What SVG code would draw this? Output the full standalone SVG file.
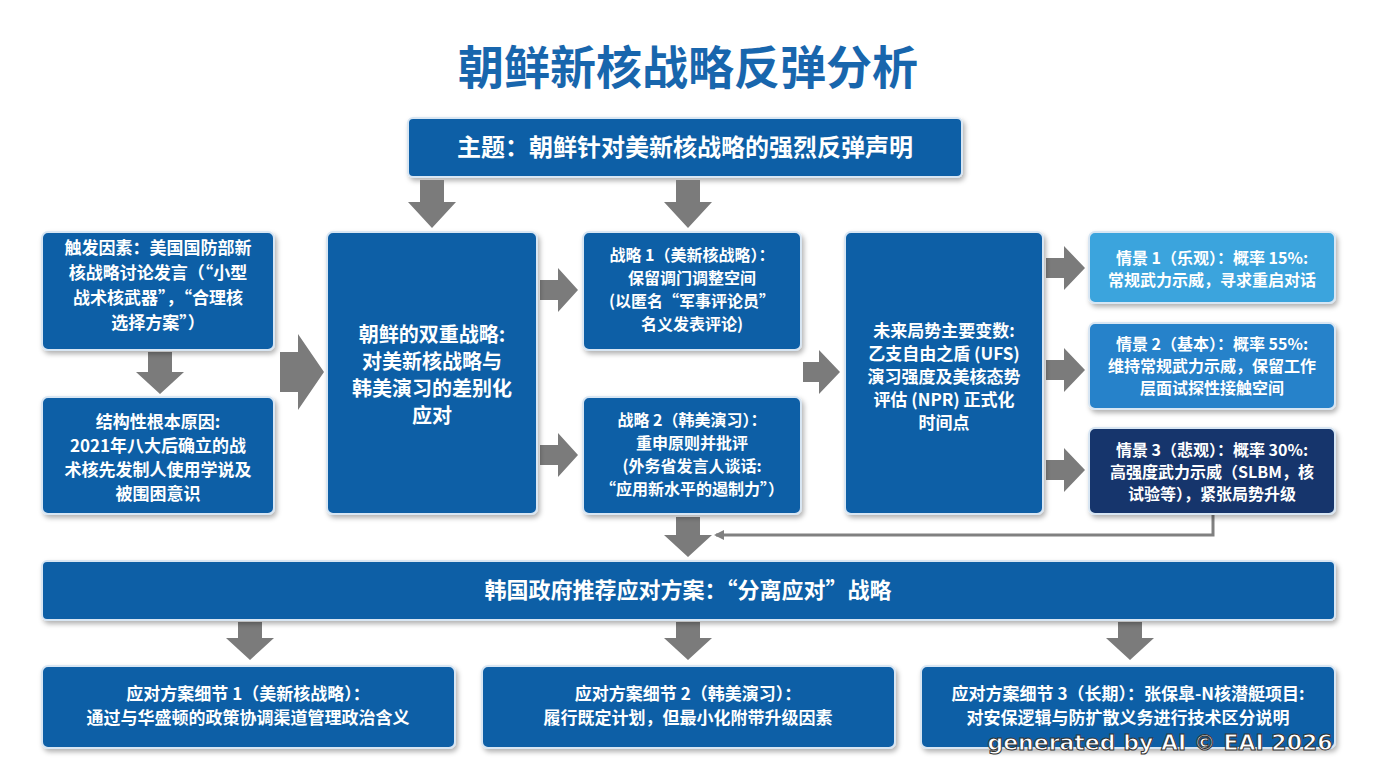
<svg xmlns="http://www.w3.org/2000/svg" width="1376" height="768" viewBox="0 0 1376 768">
<defs>
<filter id="sh" x="-10%" y="-10%" width="130%" height="140%"><feDropShadow dx="2" dy="3" stdDeviation="2.5" flood-color="#000" flood-opacity="0.3"/></filter>
<marker id="ah" markerWidth="10" markerHeight="10" refX="8" refY="5" orient="auto" markerUnits="userSpaceOnUse"><path d="M0,0 L10,5 L0,10 Z" fill="#808080"/></marker>
</defs>
<style>
.b{fill:#0f5ea6;stroke:#d8e6f3;stroke-width:2;filter:url(#sh)}
.t{font-family:"Noto Sans CJK SC","Liberation Sans",sans-serif;font-weight:bold;fill:#fff;text-anchor:middle;font-size:17px}
.a{fill:#7b7b7b}
</style>
<rect width="1376" height="768" fill="#fff"/>
<text x="688" y="84" style="font-family:'Noto Sans CJK SC',sans-serif;font-weight:bold;font-size:46px;fill:#1866ad;text-anchor:middle">朝鲜新核战略反弹分析</text>
<g id="topic"><rect class="b" x="408" y="118" width="554" height="59" rx="5"/><text class="t" x="685" y="156" style="font-size:24px">主题：朝鲜针对美新核战略的强烈反弹声明</text></g>
<g id="connectors">
<path class="a" d="M420,180h24v22h12l-24,26l-24,-26h12z"/>
<path class="a" d="M676,180h24v22h12l-24,26l-24,-26h12z"/>
<path class="a" d="M148,352h24v20h12l-24,22l-24,-22h12z"/>
<path class="a" d="M280,352h18v-18l26,38l-26,38v-18h-18z"/>
<path class="a" d="M540,280h18v-12l20,22l-20,22v-12h-18z"/>
<path class="a" d="M540,445h18v-12l20,22l-20,22v-12h-18z"/>
<path class="a" d="M803,362h16v-12l21,22l-21,22v-12h-16z"/>
<path class="a" d="M1046,258h18v-12l21,22l-21,22v-12h-18z"/>
<path class="a" d="M1046,360h18v-12l21,22l-21,22v-12h-18z"/>
<path class="a" d="M1046,460h18v-12l21,22l-21,22v-12h-18z"/>
<path class="a" d="M676,517h24v18h12l-24,22l-24,-22h12z"/>
<path d="M1213,514V535H716" fill="none" stroke="#808080" stroke-width="3" marker-end="url(#ah)"/>
<path class="a" d="M238,622h24v16h12l-24,22l-24,-22h12z"/>
<path class="a" d="M676,622h24v16h12l-24,22l-24,-22h12z"/>
<path class="a" d="M1118,622h24v16h12l-24,22l-24,-22h12z"/>
</g>
<g id="trigger"><rect class="b" x="42" y="232" width="232" height="118" rx="6"/><text class="t"><tspan x="158" y="254">触发因素：美国国防部新</tspan><tspan x="158" y="279">核战略讨论发言（“小型</tspan><tspan x="158" y="304">战术核武器”，“合理核</tspan><tspan x="158" y="329">选择方案”）</tspan></text></g>
<g id="cause"><rect class="b" x="42" y="397" width="232" height="117" rx="6"/><text class="t"><tspan x="158" y="428">结构性根本原因:</tspan><tspan x="158" y="452">2021年八大后确立的战</tspan><tspan x="158" y="476">术核先发制人使用学说及</tspan><tspan x="158" y="500">被围困意识</tspan></text></g>
<g id="dual"><rect class="b" x="327" y="232" width="210" height="282" rx="6"/><text class="t" style="font-size:20px"><tspan x="432" y="342">朝鲜的双重战略:</tspan><tspan x="432" y="369">对美新核战略与</tspan><tspan x="432" y="396">韩美演习的差别化</tspan><tspan x="432" y="423">应对</tspan></text></g>
<g id="s1"><rect class="b" x="583" y="232" width="218" height="118" rx="6"/><text class="t" style="font-size:16px"><tspan x="692" y="261">战略 1（美新核战略）：</tspan><tspan x="692" y="284">保留调门调整空间</tspan><tspan x="692" y="307">(以匿名“军事评论员”</tspan><tspan x="692" y="330">名义发表评论)</tspan></text></g>
<g id="s2"><rect class="b" x="583" y="397" width="218" height="117" rx="6"/><text class="t" style="font-size:16px"><tspan x="692" y="426">战略 2（韩美演习）：</tspan><tspan x="692" y="449">重申原则并批评</tspan><tspan x="692" y="472">(外务省发言人谈话:</tspan><tspan x="692" y="495">“应用新水平的遏制力”）</tspan></text></g>
<g id="vars"><rect class="b" x="845" y="232" width="198" height="282" rx="6"/><text class="t"><tspan x="944" y="337">未来局势主要变数:</tspan><tspan x="944" y="360">乙支自由之盾 (UFS)</tspan><tspan x="944" y="383">演习强度及美核态势</tspan><tspan x="944" y="406">评估 (NPR) 正式化</tspan><tspan x="944" y="429">时间点</tspan></text></g>
<g id="sc1"><rect class="b" x="1089" y="232" width="246" height="71" rx="6" style="fill:#3aa4dd"/><text class="t" style="font-size:16px"><tspan x="1212" y="264">情景 1（乐观）：概率 15%:</tspan><tspan x="1212" y="286">常规武力示威，寻求重启对话</tspan></text></g>
<g id="sc2"><rect class="b" x="1089" y="323" width="246" height="86" rx="6" style="fill:#2882ca"/><text class="t" style="font-size:16px"><tspan x="1212" y="350">情景 2（基本）：概率 55%:</tspan><tspan x="1212" y="372">维持常规武力示威，保留工作</tspan><tspan x="1212" y="394">层面试探性接触空间</tspan></text></g>
<g id="sc3"><rect class="b" x="1089" y="428" width="246" height="86" rx="6" style="fill:#14366c"/><text class="t" style="font-size:16px"><tspan x="1212" y="456">情景 3（悲观）：概率 30%:</tspan><tspan x="1212" y="478">高强度武力示威（SLBM，核</tspan><tspan x="1212" y="500">试验等），紧张局势升级</tspan></text></g>
<g id="rec"><rect class="b" x="42" y="561" width="1293" height="59" rx="5"/><text class="t" x="688" y="598" style="font-size:22px">韩国政府推荐应对方案：“分离应对”战略</text></g>
<g id="d1"><rect class="b" x="42" y="666" width="413" height="82" rx="6"/><text class="t"><tspan x="248" y="700">应对方案细节 1（美新核战略）：</tspan><tspan x="248" y="724">通过与华盛顿的政策协调渠道管理政治含义</tspan></text></g>
<g id="d2"><rect class="b" x="482" y="666" width="413" height="82" rx="6"/><text class="t"><tspan x="688" y="700">应对方案细节 2（韩美演习）：</tspan><tspan x="688" y="724">履行既定计划，但最小化附带升级因素</tspan></text></g>
<g id="d3"><rect class="b" x="921" y="666" width="414" height="82" rx="6"/><text class="t"><tspan x="1128" y="700">应对方案细节 3（长期）：张保皐-N核潜艇项目:</tspan><tspan x="1128" y="724">对安保逻辑与防扩散义务进行技术区分说明</tspan></text></g>
<text x="1160" y="750" style="font-family:'DejaVu Sans',sans-serif;font-weight:bold;font-size:22px;fill:#fff;stroke:#333;stroke-width:1;text-anchor:middle">generated by AI © EAI 2026</text>
</svg>
